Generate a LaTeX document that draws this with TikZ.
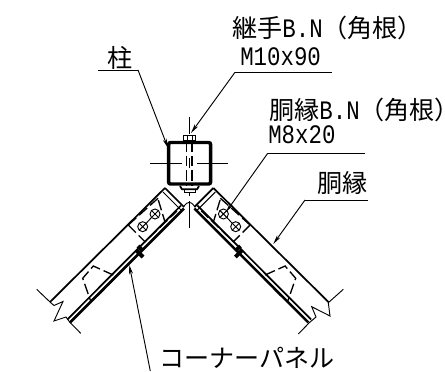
\documentclass[tikz,border=0pt]{standalone}
\usepackage{fontspec}
\usetikzlibrary{arrows.meta}
\newfontfamily\jp{Noto Sans CJK JP}
\newfontfamily\jph[RawFeature=+halt]{Noto Sans CJK JP}
\newfontfamily\lat[FakeStretch=0.84]{Liberation Mono}
\newcommand{\LT}[1]{{\lat\fontsize{20}{20}\selectfont #1}}
\tikzset{
 x=0.75pt,y=-0.75pt,
 lbl/.style={inner sep=0pt,anchor=west,font=\jp\fontsize{18.8}{20}\selectfont},
 hair/.style={line width=0.7pt,black},
 lead/.style={line width=0.7pt,black,-{Stealth[length=7pt,width=3pt]}},
 heavy/.style={line width=1.9pt,black},
 med/.style={line width=1.3pt,black},
 colbox/.style={line width=2.6pt,black,rounded corners=1.5pt},
 dashl/.style={line width=1pt,black,dash pattern=on 8pt off 3pt},
}
\newcommand{\panelbody}{%
  \draw[med] (165,188) -- (50,302);
  \draw[med] (165,188) -- (184,207);
  \draw[hair] (163,192) -- (181,210);
  \draw[heavy] (184,208.5) -- (70,322.5);
  \draw[med] (181,205.5) -- (67.3,319.5);
  \draw[dashl] (128.3,225) -- (158.3,198);
  \draw[dashl] (128.3,225) -- (145,241.7) -- (177,211);
  \draw[dashl] (158.3,200) -- (165,222);
  \draw[hair] (142.7,226.7) circle (5);
  \draw[hair] (155,214) circle (5);
  \draw[hair] (139.2,223.2) -- (146.2,230.2) (139.2,230.2) -- (146.2,223.2);
  \draw[hair] (151.5,210.5) -- (158.5,217.5) (151.5,217.5) -- (158.5,210.5);
  \draw[hair] (146,223.5) -- (151.5,217.5);
  \draw[line width=3pt,black] (136,250) -- (143,257);
  \draw[line width=3pt,black] (138,246) -- (142.5,250.5);
  \draw[dashl] (113.3,275) -- (93.3,266) -- (82.7,278.3) -- (91,302);
  \draw[dashl] (97.5,296) -- (114,279);
}
\begin{document}
\begin{tikzpicture}
\useasboundingbox (0,0) rectangle (445,371);
\fill[white] (0,0) rectangle (445,371);
% labels
\node[lbl] (t1) at (232,28) {継手\LT{B.N}（角根）};
\node[lbl] (t2) at (240,57) {\LT{M10x90}};
\node[lbl] (t3) at (107,58) {柱};
\node[lbl] (t4) at (269,110) {胴縁\LT{B.N}（角根{\jph ）}};
\node[lbl] (t5) at (268,135) {\LT{M8x20}};
\node[lbl] (t6) at (317,183) {胴縁};
\node[lbl] (t7) at (159,358) {コーナーパネル};
% column
\draw[colbox] (168.6,142.5) rectangle (210.6,184);
\draw[hair] (150,163) -- (181.7,163) (196.7,163) -- (228,163);
\draw[hair] (189.3,117) -- (189.3,134);
\draw[hair,fill=white] (183.3,140) rectangle (195.7,135.7);
\draw[hair] (187,135.7) -- (187,140) (192,135.7) -- (192,140);
\draw[dashl] (186.7,141) -- (186.7,186);
\draw[dashl] (192,141) -- (192,186);
\draw[hair] (189.3,158) -- (189.3,168);
\draw[med] (180,186) -- (182,189.3) -- (197,189.3) -- (199,186);
\draw[hair] (184,189.3) rectangle (195,192);
\draw[hair] (189.3,192) -- (189.3,196);
% panels
\panelbody
\begin{scope}[shift={(378.4,0)},xscale=-1]
\panelbody
\end{scope}
% joint centre
\draw[hair] (183.3,207) .. controls (186,203.5) and (187.5,202.3) .. (189.3,202.3) .. controls (191,202.3) and (192.5,203.5) .. (195,207);
\draw[hair] (189.3,201) -- (189.3,228);
% breaks
\draw[hair] (36.7,289.3) -- (50,302) -- (54,305.5) -- (63,301.5) -- (54,321) -- (66,317) -- (70,322.5) -- (80.7,333.3);
\draw[hair] (343.3,289.3) -- (328.3,302.7) -- (330,316) -- (311.7,306.7) -- (316,317) -- (309.3,322.7) -- (298.3,334);
% leaders
\coordinate (c3) at (138,70);
\coordinate (c2) at (235,72.3);
\coordinate (c5) at (267.7,153.3);
\coordinate (c6) at (305,200);
\draw[hair] (98,70) -- (c3);
\draw[lead] (c3) -- (168,148);
\draw[hair] (332,72.3) -- (c2);
\draw[lead] (c2) -- (191,133);
\draw[hair] (365,153.3) -- (c5);
\draw[lead] (c5) -- (226,212);
\draw[hair] (368,200) -- (c6);
\draw[lead] (c6) -- (273.3,244);
\draw[lead] (150.3,371) -- (129.3,265);
\end{tikzpicture}
\end{document}
